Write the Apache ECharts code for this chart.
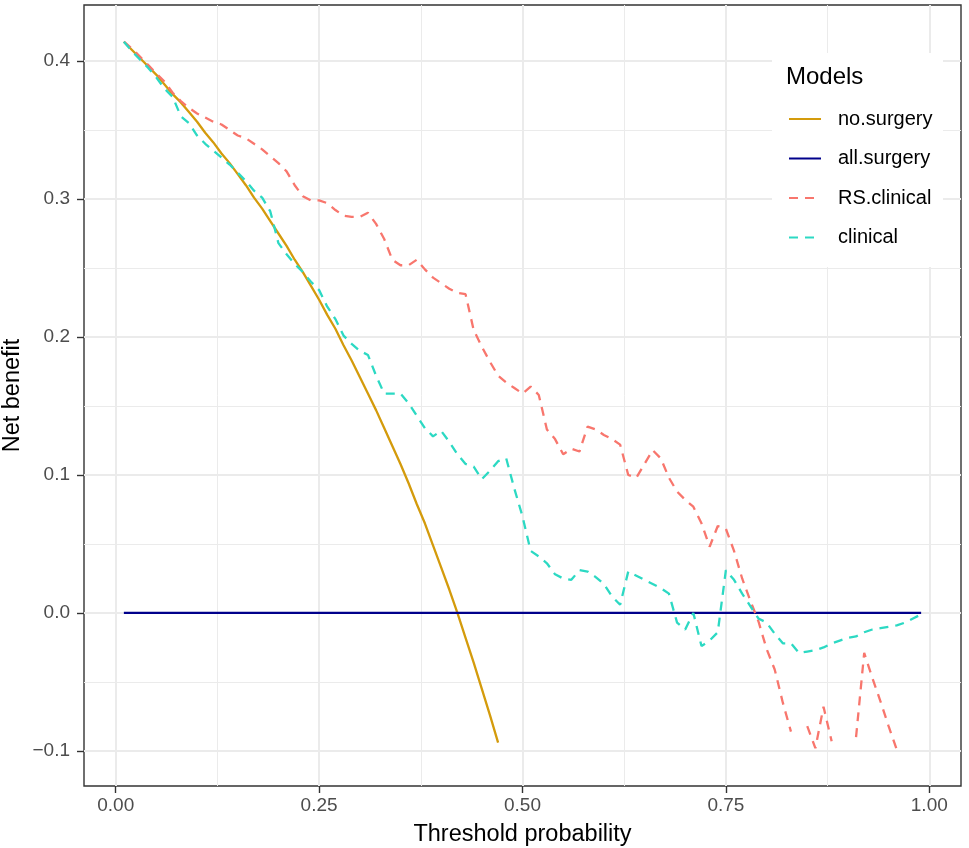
<!DOCTYPE html>
<html>
<head>
<meta charset="utf-8">
<script src="https://cdn.jsdelivr.net/npm/echarts@6/dist/echarts.min.js"></script>
<style>
  html, body { margin: 0; padding: 0; background: #fff; }
  #chart { width: 969px; height: 848px; }
</style>
</head>
<body>
<div id="chart"></div>
<script>
// threshold grid (x) shared by all curves
var thresholds = [
  0.01, 0.02, 0.03, 0.04, 0.05, 0.06, 0.07, 0.08, 0.09, 0.10,
  0.11, 0.12, 0.13, 0.14, 0.15, 0.16, 0.17, 0.18, 0.19, 0.20,
  0.21, 0.22, 0.23, 0.24, 0.25, 0.26, 0.27, 0.28, 0.29, 0.30,
  0.31, 0.32, 0.33, 0.34, 0.35, 0.36, 0.37, 0.38, 0.39, 0.40,
  0.41, 0.42, 0.43, 0.44, 0.45, 0.46, 0.47, 0.48, 0.49, 0.50,
  0.51, 0.52, 0.53, 0.54, 0.55, 0.56, 0.57, 0.58, 0.59, 0.60,
  0.61, 0.62, 0.63, 0.64, 0.65, 0.66, 0.67, 0.68, 0.69, 0.70,
  0.71, 0.72, 0.73, 0.74, 0.75, 0.76, 0.77, 0.78, 0.79, 0.80,
  0.81, 0.82, 0.83, 0.84, 0.85, 0.86, 0.87, 0.88, 0.89, 0.90,
  0.91, 0.92, 0.93, 0.94, 0.95, 0.96, 0.97, 0.98, 0.99
];

// no.surgery: stops at 0.47 (below the y limit afterwards)
var noSurgery = [
  0.414, 0.408, 0.402, 0.396, 0.390, 0.383, 0.376, 0.370, 0.363, 0.356,
  0.348, 0.341, 0.333, 0.326, 0.318, 0.310, 0.301, 0.293, 0.284, 0.275,
  0.266, 0.256, 0.247, 0.237, 0.227, 0.216, 0.206, 0.194, 0.183, 0.171,
  0.159, 0.147, 0.134, 0.121, 0.108, 0.094, 0.079, 0.065, 0.049, 0.033,
  0.017, 0.000, -0.018, -0.036, -0.055, -0.074, -0.094
];

var allSurgery = [
  0, 0, 0, 0, 0, 0, 0, 0, 0, 0,
  0, 0, 0, 0, 0, 0, 0, 0, 0, 0,
  0, 0, 0, 0, 0, 0, 0, 0, 0, 0,
  0, 0, 0, 0, 0, 0, 0, 0, 0, 0,
  0, 0, 0, 0, 0, 0, 0, 0, 0, 0,
  0, 0, 0, 0, 0, 0, 0, 0, 0, 0,
  0, 0, 0, 0, 0, 0, 0, 0, 0, 0,
  0, 0, 0, 0, 0, 0, 0, 0, 0, 0,
  0, 0, 0, 0, 0, 0, 0, 0, 0, 0,
  0, 0, 0, 0, 0, 0, 0, 0, 0
];

// null = dropped below the y limit
var rsClinical = [
  0.414, 0.409, 0.403, 0.397, 0.391, 0.385, 0.377, 0.371, 0.366, 0.362,
  0.359, 0.356, 0.354, 0.350, 0.346, 0.344, 0.340, 0.336, 0.331, 0.326,
  0.320, 0.310, 0.302, 0.299, 0.299, 0.297, 0.292, 0.288, 0.287, 0.287,
  0.290, 0.282, 0.271, 0.256, 0.252, 0.252, 0.256, 0.249, 0.243, 0.239,
  0.235, 0.232, 0.231, 0.205, 0.193, 0.182, 0.172, 0.167, 0.163, 0.159,
  0.164, 0.158, 0.133, 0.126, 0.115, 0.119, 0.117, 0.135, 0.133, 0.129,
  0.126, 0.122, 0.100, 0.098, 0.108, 0.118, 0.112, 0.098, 0.088, 0.082,
  0.077, 0.065, 0.048, 0.063, 0.061, 0.045, 0.025, 0.009, -0.006, -0.026,
  -0.041, -0.065, -0.086, null, -0.082, -0.098, -0.068, -0.093, null, null,
  -0.090, -0.029, -0.047, -0.064, -0.082, -0.099, null, null, null
];

var clinical = [
  0.414, 0.407, 0.401, 0.395, 0.388, 0.380, 0.374, 0.360, 0.355, 0.346,
  0.340, 0.335, 0.330, 0.325, 0.319, 0.313, 0.306, 0.301, 0.291, 0.268,
  0.260, 0.253, 0.247, 0.240, 0.234, 0.222, 0.213, 0.201, 0.195, 0.190,
  0.187, 0.172, 0.159, 0.159, 0.159, 0.152, 0.143, 0.134, 0.128, 0.132,
  0.124, 0.115, 0.108, 0.106, 0.097, 0.103, 0.110, 0.112, 0.090, 0.070,
  0.045, 0.041, 0.036, 0.028, 0.025, 0.024, 0.031, 0.030, 0.026, 0.021,
  0.012, 0.006, 0.030, 0.027, 0.024, 0.021, 0.018, 0.014, -0.007, -0.012,
  0.000, -0.024, -0.020, -0.014, 0.031, 0.024, 0.014, 0.005, -0.004, -0.007,
  -0.015, -0.022, -0.022, -0.029, -0.028, -0.027, -0.025, -0.022, -0.020, -0.018,
  -0.017, -0.014, -0.012, -0.011, -0.010, -0.009, -0.007, -0.004, -0.001
];

var xMajor = [0, 0.25, 0.5, 0.75, 1];
var xMinor = [0.125, 0.375, 0.625, 0.875];
var yMajor = [-0.1, 0, 0.1, 0.2, 0.3, 0.4];
var yMinor = [-0.05, 0.05, 0.15, 0.25, 0.35];

var modelNames = ['no.surgery', 'all.surgery', 'RS.clinical', 'clinical'];
var modelColors = ['#D49B0C', '#00008B', '#F8766D', '#2CD9C3'];

(function () {
  var font = '"Liberation Sans", Arial, Helvetica, sans-serif';
  var ink = '#000';
  var tickInk = '#4D4D4D';
  var gridCol = '#EBEBEB';

  function pairs(vals) {
    return vals.map(function (v, i) { return [thresholds[i], v === null ? '-' : v]; });
  }

  var chart = echarts.init(document.getElementById('chart'), null, { renderer: 'canvas' });

  var lineData = [pairs(noSurgery), pairs(allSurgery), pairs(rsClinical), pairs(clinical)];
  var dashed = [false, false, true, true];

  var series = modelNames.map(function (name, i) {
    return {
      name: name, type: 'line', data: lineData[i],
      xAxisIndex: 0, yAxisIndex: 0,
      symbol: 'none', connectNulls: false, smooth: false,
      lineStyle: { color: modelColors[i], width: 2.3, type: dashed[i] ? [9, 7] : 'solid' },
      itemStyle: { color: modelColors[i] },
      z: 3
    };
  });

  var xr = { min: -0.039, max: 1.039 };
  var yr = { min: -0.1254, max: 0.4406 };

  chart.setOption({
    animation: false,
    backgroundColor: '#fff',
    grid: {
      left: 84, right: 8, top: 5, bottom: 62,
      containLabel: false, outerBoundsMode: 'none',
      show: true, backgroundColor: '#fff',
      borderColor: '#333333', borderWidth: 1.4
    },
    xAxis: [
      {
        type: 'value', min: xr.min, max: xr.max,
        name: 'Threshold probability', nameLocation: 'middle', nameGap: 37, nameMoveOverlap: false,
        nameTextStyle: { color: ink, fontSize: 23.5, fontFamily: font },
        axisLine: { show: false, onZero: false },
        axisTick: { show: true, length: 7, customValues: xMajor, lineStyle: { color: '#333', width: 1.4 } },
        axisLabel: {
          customValues: xMajor, color: tickInk, fontSize: 19, fontFamily: font, margin: 10,
          formatter: function (v) { return v.toFixed(2); }
        },
        splitLine: { show: true, lineStyle: { color: gridCol, width: 2 } }
      },
      {
        type: 'value', min: xr.min, max: xr.max, position: 'top',
        axisLine: { show: false, onZero: false },
        axisTick: { show: false, customValues: xMinor },
        axisLabel: { show: false, customValues: xMinor },
        splitLine: { show: true, lineStyle: { color: gridCol, width: 1 } }
      }
    ],
    yAxis: [
      {
        type: 'value', min: yr.min, max: yr.max,
        name: 'Net benefit', nameLocation: 'middle', nameGap: 59, nameRotate: 90, nameMoveOverlap: false,
        nameTextStyle: { color: ink, fontSize: 23.5, fontFamily: font },
        axisLine: { show: false, onZero: false },
        axisTick: { show: true, length: 7, customValues: yMajor, lineStyle: { color: '#333', width: 1.4 } },
        axisLabel: {
          customValues: yMajor, color: tickInk, fontSize: 19, fontFamily: font, margin: 14,
          formatter: function (v) {
            var s = Math.abs(v).toFixed(1);
            return v < -1e-9 ? '\u2212' + s : s;
          }
        },
        splitLine: { show: true, lineStyle: { color: gridCol, width: 2 } }
      },
      {
        type: 'value', min: yr.min, max: yr.max, position: 'right',
        axisLine: { show: false, onZero: false },
        axisTick: { show: false, customValues: yMinor },
        axisLabel: { show: false, customValues: yMinor },
        splitLine: { show: true, lineStyle: { color: gridCol, width: 1 } }
      }
    ],
    legend: {
      data: modelNames,
      orient: 'vertical',
      left: 788, top: 109,
      padding: 0,
      itemWidth: 32, itemHeight: 20, itemGap: 19.5,
      itemStyle: { opacity: 0 },
      textStyle: { color: ink, fontSize: 20, fontFamily: font, padding: [0, 0, 0, 12] },
      selectedMode: false,
      z: 200
    },
    graphic: [
      { type: 'rect', z: 100, shape: { x: 772, y: 53, width: 171, height: 214 }, style: { fill: '#fff' } },
      { type: 'text', z: 200, x: 786, y: 77, style: { text: 'Models', fill: ink, font: '24px ' + font, textVerticalAlign: 'middle' } }
    ],
    series: series
  });
})();
</script>
</body>
</html>
